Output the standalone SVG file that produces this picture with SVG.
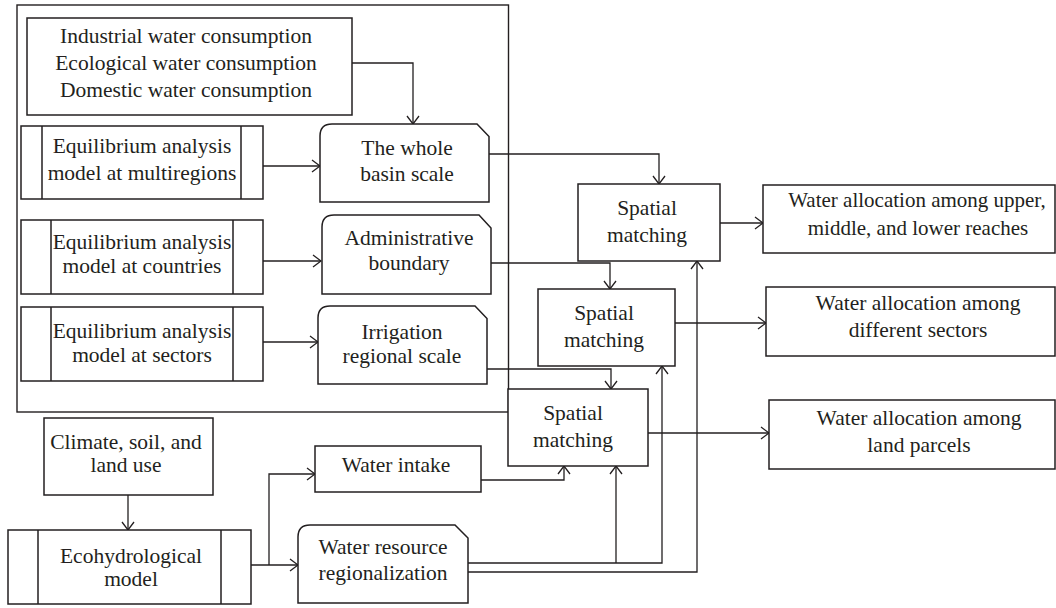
<svg xmlns="http://www.w3.org/2000/svg" width="1056" height="608" viewBox="0 0 1056 608">
<defs>
<style>
.b{fill:#fff;stroke:#231f20;stroke-width:1.5}
.f{fill:none;stroke:#231f20;stroke-width:1.4}
.c{fill:none;stroke:#231f20;stroke-width:1.3}
</style>
<marker id="a" viewBox="0 0 10 14" refX="9" refY="7" markerWidth="10" markerHeight="14" markerUnits="userSpaceOnUse" orient="auto">
<path d="M1,1 L9,7 L1,13" fill="none" stroke="#231f20" stroke-width="1.3"/>
</marker>
</defs>
<rect width="1056" height="608" fill="#fff"/>
<g id="frame"><rect class="f" x="17" y="5" width="491.5" height="407"/></g>
<g id="connectors" class="c">
<path marker-end="url(#a)" d="M352,63 H413 V124"/>
<path marker-end="url(#a)" d="M263,166 H320"/>
<path marker-end="url(#a)" d="M263,261 H321"/>
<path marker-end="url(#a)" d="M263,342 H318"/>
<path marker-end="url(#a)" d="M489,154 H659 V184"/>
<path marker-end="url(#a)" d="M491,263 H610 V289"/>
<path marker-end="url(#a)" d="M487,369 H611 V389"/>
<path marker-end="url(#a)" d="M720,223 H763"/>
<path marker-end="url(#a)" d="M675,323 H766"/>
<path marker-end="url(#a)" d="M648,433 H769"/>
<path marker-end="url(#a)" d="M128,495 V530"/>
<path marker-end="url(#a)" d="M251,565 H298"/>
<path marker-end="url(#a)" d="M269,565 V474 H315"/>
<path marker-end="url(#a)" d="M481,480 H564 V466"/>
<path marker-end="url(#a)" d="M616,563 V466"/>
<path marker-end="url(#a)" d="M468,563 H662 V366"/>
<path marker-end="url(#a)" d="M468,572 H697 V261"/>
</g>
<g id="consumption"><rect class="b" x="27" y="18" width="325" height="97"/>
<text font-family="Liberation Serif" font-size="21.5" fill="#231f20" text-anchor="middle" x="186" y="43">Industrial water consumption</text><text font-family="Liberation Serif" font-size="21.5" fill="#231f20" text-anchor="middle" x="186" y="70">Ecological water consumption</text><text font-family="Liberation Serif" font-size="21.5" fill="#231f20" text-anchor="middle" x="186" y="97">Domestic water consumption</text></g>
<g id="eq-multiregions"><rect class="b" x="21" y="126" width="242" height="73"/><path class="b" d="M42,126 V199 M241,126 V199"/>
<text font-family="Liberation Serif" font-size="21.5" fill="#231f20" text-anchor="middle" x="142" y="153">Equilibrium analysis</text><text font-family="Liberation Serif" font-size="21.5" fill="#231f20" text-anchor="middle" x="142" y="180">model at multiregions</text></g>
<g id="eq-countries"><rect class="b" x="21" y="220" width="242" height="74"/><path class="b" d="M51,220 V294 M233,220 V294"/>
<text font-family="Liberation Serif" font-size="21.5" fill="#231f20" text-anchor="middle" x="142" y="249">Equilibrium analysis</text><text font-family="Liberation Serif" font-size="21.5" fill="#231f20" text-anchor="middle" x="142" y="273">model at countries</text></g>
<g id="eq-sectors"><rect class="b" x="21" y="307" width="242" height="74"/><path class="b" d="M51,307 V381 M233,307 V381"/>
<text font-family="Liberation Serif" font-size="21.5" fill="#231f20" text-anchor="middle" x="142" y="338">Equilibrium analysis</text><text font-family="Liberation Serif" font-size="21.5" fill="#231f20" text-anchor="middle" x="142" y="362">model at sectors</text></g>
<g id="basin"><path class="b" d="M332,124 H477 L489,136.5 V202 H320 V136 Q320,124 332,124 Z"/>
<text font-family="Liberation Serif" font-size="21.5" fill="#231f20" text-anchor="middle" x="407" y="155">The whole</text><text font-family="Liberation Serif" font-size="21.5" fill="#231f20" text-anchor="middle" x="407" y="181">basin scale</text></g>
<g id="admin"><path class="b" d="M334,215 H479 L491,228 V294 H322 V227 Q322,215 334,215 Z"/>
<text font-family="Liberation Serif" font-size="21.5" fill="#231f20" text-anchor="middle" x="409" y="245">Administrative</text><text font-family="Liberation Serif" font-size="21.5" fill="#231f20" text-anchor="middle" x="409" y="270">boundary</text></g>
<g id="irrigation"><path class="b" d="M330,306 H475 L487,318.5 V384 H318 V318 Q318,306 330,306 Z"/>
<text font-family="Liberation Serif" font-size="21.5" fill="#231f20" text-anchor="middle" x="402" y="339">Irrigation</text><text font-family="Liberation Serif" font-size="21.5" fill="#231f20" text-anchor="middle" x="402" y="363">regional scale</text></g>
<g id="spatial1"><rect class="b" x="578" y="184" width="142" height="77"/>
<text font-family="Liberation Serif" font-size="21.5" fill="#231f20" text-anchor="middle" x="647" y="215">Spatial</text><text font-family="Liberation Serif" font-size="21.5" fill="#231f20" text-anchor="middle" x="647" y="242">matching</text></g>
<g id="spatial2"><rect class="b" x="538" y="289" width="137" height="77"/>
<text font-family="Liberation Serif" font-size="21.5" fill="#231f20" text-anchor="middle" x="604" y="320">Spatial</text><text font-family="Liberation Serif" font-size="21.5" fill="#231f20" text-anchor="middle" x="604" y="347">matching</text></g>
<g id="spatial3"><rect class="b" x="508" y="389" width="140" height="77"/>
<text font-family="Liberation Serif" font-size="21.5" fill="#231f20" text-anchor="middle" x="573" y="420">Spatial</text><text font-family="Liberation Serif" font-size="21.5" fill="#231f20" text-anchor="middle" x="573" y="447">matching</text></g>
<g id="alloc-reaches"><rect class="b" x="763" y="185" width="292" height="68"/>
<text font-family="Liberation Serif" font-size="21" fill="#231f20" text-anchor="middle" x="917" y="207">Water allocation among upper,</text><text font-family="Liberation Serif" font-size="21" fill="#231f20" text-anchor="middle" x="918" y="235">middle, and lower reaches</text></g>
<g id="alloc-sectors"><rect class="b" x="766" y="287" width="289" height="69"/>
<text font-family="Liberation Serif" font-size="21.5" fill="#231f20" text-anchor="middle" x="918" y="310">Water allocation among</text><text font-family="Liberation Serif" font-size="21.5" fill="#231f20" text-anchor="middle" x="918" y="337">different sectors</text></g>
<g id="alloc-parcels"><rect class="b" x="769" y="400" width="286" height="69"/>
<text font-family="Liberation Serif" font-size="21.5" fill="#231f20" text-anchor="middle" x="919" y="425">Water allocation among</text><text font-family="Liberation Serif" font-size="21.5" fill="#231f20" text-anchor="middle" x="919" y="452">land parcels</text></g>
<g id="climate"><rect class="b" x="44" y="418" width="169" height="77"/>
<text font-family="Liberation Serif" font-size="21.5" fill="#231f20" text-anchor="middle" x="126" y="449">Climate, soil, and</text><text font-family="Liberation Serif" font-size="21.5" fill="#231f20" text-anchor="middle" x="126" y="472">land use</text></g>
<g id="ecohydro"><rect class="b" x="8" y="530" width="243" height="74"/><path class="b" d="M38,530 V604 M221,530 V604"/>
<text font-family="Liberation Serif" font-size="21.5" fill="#231f20" text-anchor="middle" x="131" y="563">Ecohydrological</text><text font-family="Liberation Serif" font-size="21.5" fill="#231f20" text-anchor="middle" x="131" y="586">model</text></g>
<g id="intake"><rect class="b" x="315" y="446" width="166" height="46"/>
<text font-family="Liberation Serif" font-size="21.5" fill="#231f20" text-anchor="middle" x="396" y="472">Water intake</text></g>
<g id="regionalization"><path class="b" d="M310,525 H455 L468,538 V603 H298 V537 Q298,525 310,525 Z"/>
<text font-family="Liberation Serif" font-size="21.5" fill="#231f20" text-anchor="middle" x="383" y="554">Water resource</text><text font-family="Liberation Serif" font-size="21.5" fill="#231f20" text-anchor="middle" x="383" y="580">regionalization</text></g>
</svg>
